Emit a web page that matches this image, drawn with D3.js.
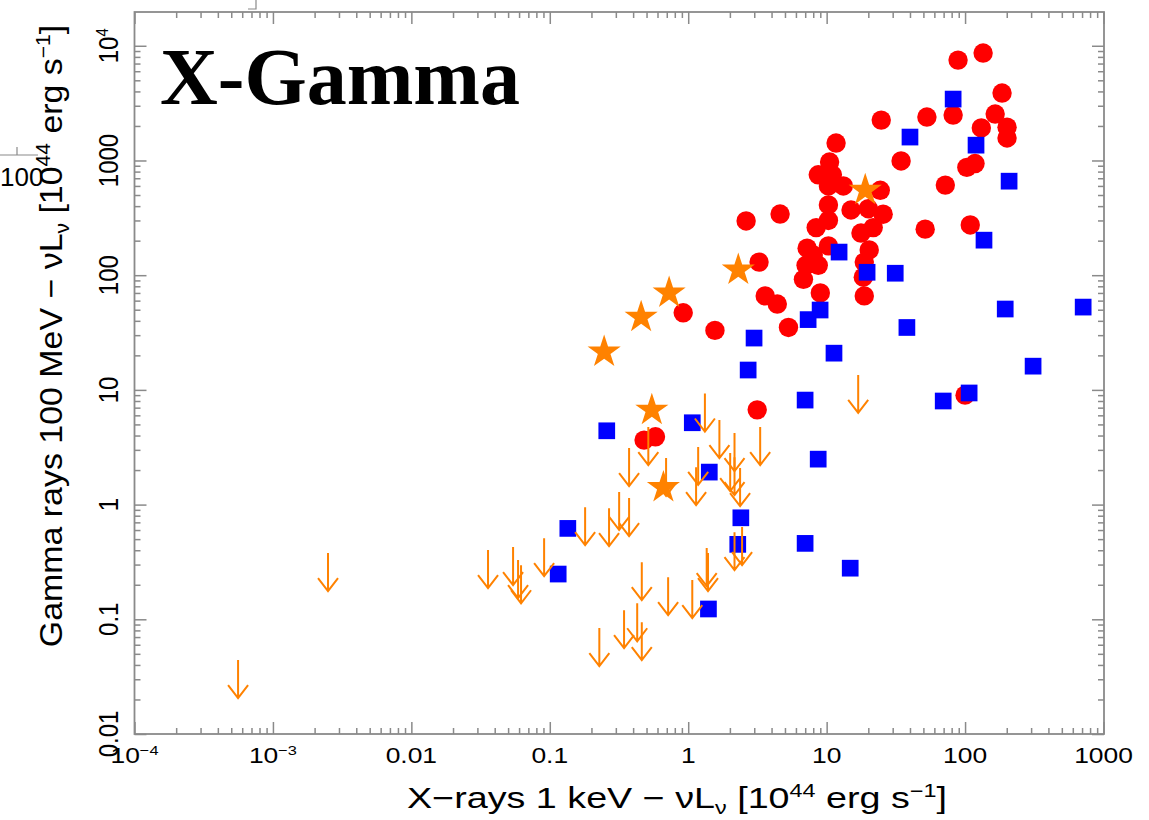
<!DOCTYPE html>
<html>
<head>
<meta charset="utf-8">
<script src="https://cdn.jsdelivr.net/npm/d3@7"></script>
<style>
  body { margin: 0; background: #fff; }
  text { font-family: "Liberation Sans", Arial, sans-serif; fill: #000; }
</style>
</head>
<body>
<svg id="chart" width="1149" height="820"></svg>
<script>
// x = X-ray 1 keV luminosity, y = gamma-ray 100 MeV luminosity (units of 1e44 erg/s)
const redCircles = [
  [135, 8640], [89, 7500], [185, 3870], [165, 2540], [201, 1950], [201, 1570], [131, 1920],
  [82, 2490], [53, 2390], [24.8, 2250], [11.7, 1420], [34.5, 990], [10.5, 970], [11, 750],
  [8.7, 750], [103, 870], [118, 940], [72, 610], [10.3, 600], [13.2, 600], [24.4, 550],
  [10.3, 410], [15, 370], [20, 380], [25.6, 340], [10.3, 300], [8.4, 260], [21.7, 260],
  [109, 274], [2.62, 297], [4.61, 341], [51.5, 252], [17.7, 233], [20.3, 166], [10.3, 180],
  [7.23, 172], [8, 150], [18.7, 130], [3.25, 130], [7.1, 122], [8.7, 122], [18.4, 96],
  [6.8, 92], [9, 70], [18.7, 66], [3.6, 66], [4.4, 56], [5.3, 35], [1.56, 33], [0.92, 47],
  [100, 9], [3.15, 6.7], [0.48, 3.65], [0.58, 3.9]
];

const blueSquares = [
  [82, 3430], [40, 1600], [120, 1360], [208, 660], [12.3, 159], [19.6, 106], [31.3, 104],
  [137, 202], [7.35, 41], [8.97, 49.7], [2.99, 28.3], [38, 35], [713, 52.7], [195, 50.7],
  [11.3, 20.9], [2.71, 14.9], [310, 16.1], [0.258, 4.4], [1.07, 5.17], [6.99, 8.15],
  [69.5, 8.0], [107, 9.4], [1.42, 1.92], [8.69, 2.49], [0.135, 0.62], [2.4, 0.767],
  [2.28, 0.45], [6.99, 0.459], [0.115, 0.248], [14.8, 0.279], [1.4, 0.123]
];

const orangeStars = [
  [19, 552], [2.3, 111], [0.728, 70], [0.457, 43], [0.247, 21.4], [0.546, 6.67], [0.662, 1.41]
];

// gamma-ray upper limits (arrow starts at the limit)
const upperLimits = [
  [1.32, 9.3], [1.68, 5.46], [2.16, 4.2], [3.31, 4.74], [0.515, 4.74], [0.374, 3.11],
  [0.692, 2.55], [1.18, 3.18], [1.14, 2.12], [2.01, 2.81], [2.16, 2.59], [2.37, 2.08],
  [0.317, 1.29], [0.374, 1.14], [0.18, 0.95], [0.268, 0.93], [0.091, 0.51], [2.16, 0.575],
  [2.45, 0.637], [0.462, 0.315], [0.716, 0.233], [1.07, 0.22], [1.36, 0.418], [1.39, 0.378],
  [0.344, 0.12], [0.428, 0.138], [0.462, 0.0944], [0.228, 0.0838], [5.6e-4, 0.0441],
  [2.5e-3, 0.378], [0.0358, 0.401], [0.0543, 0.426], [0.059, 0.328], [0.062, 0.296],
  [16.9, 13.5]
];

const xTickValues = [1e-4, 1e-3, 0.01, 0.1, 1, 10, 100, 1000];
const xTickLabels = ['10^{−4}', '10^{−3}', '0.01', '0.1', '1', '10', '100', '1000'];
const yTickValues = [0.01, 0.1, 1, 10, 100, 1000, 1e4];
const yTickLabels = ['0.01', '0.1', '1', '10', '100', '1000', '10^{4}'];

const xTitle = 'X−rays 1 keV − νL_{ν} [10^{44} erg s^{−1}]';
const yTitle = 'Gamma rays 100 MeV − νL_{ν} [10^{44} erg s^{−1}]';

const plotL = 134.5, plotR = 1104, plotT = 12, plotB = 734;
const svg = d3.select('#chart');

const x = d3.scaleLog().domain([1e-4, 1000]).range([plotL, plotR - 0.5]);
const y = d3.scaleLog().domain([0.01, 19700]).range([plotB, plotT]);

// text with ^{sup} and _{sub} parts
function rich(sel, str, fs) {
  const re = /([\^_])\{([^}]*)\}|([^\^_]+)/g;
  let m, shift = 0;
  while ((m = re.exec(str))) {
    let t = m[3], size = fs, target = 0;
    if (m[1]) {
      t = m[2];
      size = fs * 0.62;
      target = m[1] === '^' ? -fs * 0.38 : fs * 0.22;
    }
    sel.append('tspan').attr('dy', target - shift).attr('font-size', size).text(t);
    shift = target;
  }
}

// ticks on all four sides, pointing inward
const isMajor = v => Math.abs(Math.log10(v) - Math.round(Math.log10(v))) < 1e-9;
const xMinor = x.ticks().filter(v => !isMajor(v));
const yMinor = y.ticks().filter(v => !isMajor(v));

const axes = [
  [d3.axisBottom(x), `translate(0,${plotB})`, xTickValues, xMinor],
  [d3.axisTop(x), `translate(0,${plotT})`, xTickValues, xMinor],
  [d3.axisLeft(y), `translate(${plotL},0)`, yTickValues, yMinor],
  [d3.axisRight(y), `translate(${plotR},0)`, yTickValues, yMinor]
];
axes.forEach(([ax, tr, major, minor]) => {
  [[major, 12], [minor, 6]].forEach(([vals, len]) => {
    const g = svg.append('g')
      .attr('transform', tr)
      .call(ax.tickValues(vals).tickSize(-len).tickFormat(''));
    g.select('.domain').remove();
    g.selectAll('line').attr('stroke', '#8a8a8a').attr('stroke-width', 1.5);
  });
});

svg.append('rect')
  .attr('x', plotL).attr('y', plotT)
  .attr('width', plotR - plotL).attr('height', plotB - plotT)
  .attr('fill', 'none').attr('stroke', '#8a8a8a').attr('stroke-width', 1.8);

// tick labels
svg.append('g').selectAll('g')
  .data(xTickValues)
  .join('g')
  .attr('transform', d => `translate(${x(d)},763) scale(1.2,1)`)
  .each(function (d, i) {
    rich(d3.select(this).append('text').attr('text-anchor', 'middle'), xTickLabels[i], 22);
  });

svg.append('g').selectAll('g')
  .data(yTickValues)
  .join('g')
  .attr('transform', d => `translate(118,${y(d)}) scale(1.15,1) rotate(-90)`)
  .each(function (d, i) {
    rich(d3.select(this).append('text').attr('text-anchor', 'middle'), yTickLabels[i], 24);
  });

// axis titles
rich(svg.append('g').attr('transform', 'translate(677,808) scale(1.3,1)')
  .append('text').attr('text-anchor', 'middle'), xTitle, 29);
rich(svg.append('g').attr('transform', 'translate(62,336) rotate(-90) scale(1.06,1)')
  .append('text').attr('text-anchor', 'middle'), yTitle, 32);

// markers
const sym = (type, size) => d3.symbol().type(type).size(size)();

svg.append('g').selectAll('path')
  .data(redCircles)
  .join('path')
  .attr('transform', d => `translate(${x(d[0])},${y(d[1])})`)
  .attr('d', sym(d3.symbolCircle, 296))
  .attr('fill', '#ff0000');

svg.append('g').selectAll('path')
  .data(blueSquares)
  .join('path')
  .attr('transform', d => `translate(${x(d[0])},${y(d[1])})`)
  .attr('d', sym(d3.symbolSquare, 279))
  .attr('fill', '#0000ff');

svg.append('g').selectAll('path')
  .data(upperLimits)
  .join('path')
  .attr('transform', d => `translate(${x(d[0])},${y(d[1])})`)
  .attr('d', 'M0,0V38M-10,25L0,38L10,25')
  .attr('fill', 'none')
  .attr('stroke', '#ff8200')
  .attr('stroke-width', 2);

svg.append('g').selectAll('path')
  .data(orangeStars)
  .join('path')
  .attr('transform', d => `translate(${x(d[0])},${y(d[1])})`)
  .attr('d', sym(d3.symbolStar, 340))
  .attr('fill', '#ff8200');

// panel title
svg.append('text')
  .attr('x', 160).attr('y', 104)
  .style('font-family', '"Liberation Serif", "Times New Roman", serif')
  .attr('font-weight', 'bold')
  .attr('font-size', 80)
  .text('X-Gamma');

// fragments of the neighbouring panel left in the crop
const edge = svg.append('g').attr('stroke', '#8a8a8a').attr('stroke-width', 1.2).attr('fill', 'none');
edge.append('path').attr('d', 'M0,155H38M17,147V155');
edge.append('path').attr('d', 'M248,9H256V0');
svg.append('text').attr('x', 0).attr('y', 186).attr('font-size', 26).text('100');
</script>
</body>
</html>
